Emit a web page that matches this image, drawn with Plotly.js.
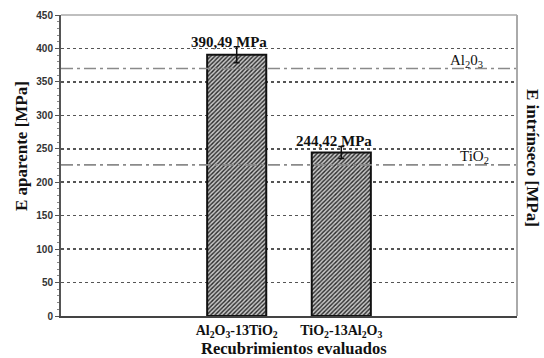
<!DOCTYPE html>
<html><head><meta charset="utf-8">
<script src="https://cdn.plot.ly/plotly-3.0.1.min.js"></script>
<style>body{margin:0;background:#fff}#c{width:544px;height:358px}</style>
</head><body><div id="c"></div>
<script>
const categories = ["Al<sub>2</sub>O<sub>3</sub>-13TiO<sub>2</sub>", "TiO<sub>2</sub>-13Al<sub>2</sub>O<sub>3</sub>"];
const values = [390.49, 244.42];
const errors = [12, 9];
const valueLabels = ["390,49 MPa", "244,42 MPa"];
const refNames = ["Al<sub>2</sub>0<sub>3</sub>", "TiO<sub>2</sub>"];
const refValues = [370, 226];
const yTicks = [0, 50, 100, 150, 200, 250, 300, 350, 400, 450];

const xs = categories.map((_, i) => i);
const serif = "Liberation Serif";
const sans = "Liberation Sans";

const traces = [{
  type: 'bar', x: xs, y: values, width: 0.565,
  marker: {color: '#888', line: {color: '#111', width: 2},
    pattern: {shape: '/', fgcolor: '#2a2a2a', bgcolor: '#c8c8c8', size: 3, solidity: 0.45}},
  error_y: {type: 'data', array: errors, visible: true, color: '#111', thickness: 1.5, width: 3},
  hoverinfo: 'none'
}];

const shapes = refValues.map(v => ({type: 'line', xref: 'paper', x0: 0, x1: 1, yref: 'y', y0: v, y1: v,
  line: {color: '#8a8a8a', width: 1.6, dash: '12px,4px,3px,4px'}, layer: 'above'}));

const annotations = [];
values.forEach((v, i) => annotations.push({x: xs[i] - 0.07, y: v + errors[i], yshift: -5, text: valueLabels[i],
  showarrow: false, yanchor: 'bottom', font: {family: serif, size: 15, color: '#111', weight: 'bold'}}));
const refX = [0.93, 0.942];
refValues.forEach((v, i) => annotations.push({xref: 'paper', x: refX[i], y: v, yshift: -3, text: refNames[i],
  showarrow: false, yanchor: 'bottom', font: {family: serif, size: 15, color: '#111'}}));
annotations.push({xref: 'paper', yref: 'paper', x: 1.033, xanchor: 'center', y: 0.525, text: 'E intrínseco [MPa]', textangle: 90,
  showarrow: false, font: {family: serif, size: 17, color: '#111', weight: 'bold'}});
annotations.push({xref: 'paper', yref: 'paper', x: -0.088, xanchor: 'center', y: 0.564, text: 'E aparente [MPa]', textangle: -90,
  showarrow: false, font: {family: serif, size: 17, color: '#111', weight: 'bold'}});
annotations.push({xref: 'paper', yref: 'paper', x: 0.51, xanchor: 'center', y: -0.1075, yanchor: 'middle', borderpad: 0,
  text: 'Recubrimientos evaluados', showarrow: false, font: {family: serif, size: 16.5, color: '#111', weight: 'bold'}});

const layout = {
  width: 544, height: 358, margin: {l: 61, r: 27, t: 15, b: 42},
  paper_bgcolor: '#fff', plot_bgcolor: '#fff', showlegend: false,
  xaxis: {range: [-1.68, 2.68], tickvals: xs, ticktext: categories, showgrid: false, zeroline: false,
    ticks: '', tickfont: {family: serif, size: 14, color: '#111', weight: 'bold'},
    showline: true, linecolor: '#444', linewidth: 2, mirror: false},
  yaxis: {range: [0, 450], tickvals: yTicks, showgrid: true, gridcolor: '#555', griddash: 'dot', gridwidth: 1.5,
    zeroline: false, showline: true, linecolor: '#555', linewidth: 2, ticks: 'outside', ticklen: 4, tickcolor: '#555',
    tickfont: {family: sans, size: 10, color: '#333', weight: 'bold'},
    minor: {dtick: 10, ticks: 'outside', ticklen: 2, tickcolor: '#888', showgrid: false}},
  shapes: shapes.concat([
    {type: 'line', xref: 'paper', yref: 'paper', x0: 0, x1: 1, y0: 1, y1: 1, line: {color: '#aaa', width: 1.5}},
    {type: 'line', xref: 'paper', yref: 'paper', x0: 1, x1: 1, y0: 0, y1: 1, line: {color: '#aaa', width: 2}}
  ]),
  annotations: annotations
};
Plotly.newPlot('c', traces, layout, {staticPlot: true});
</script></body></html>
